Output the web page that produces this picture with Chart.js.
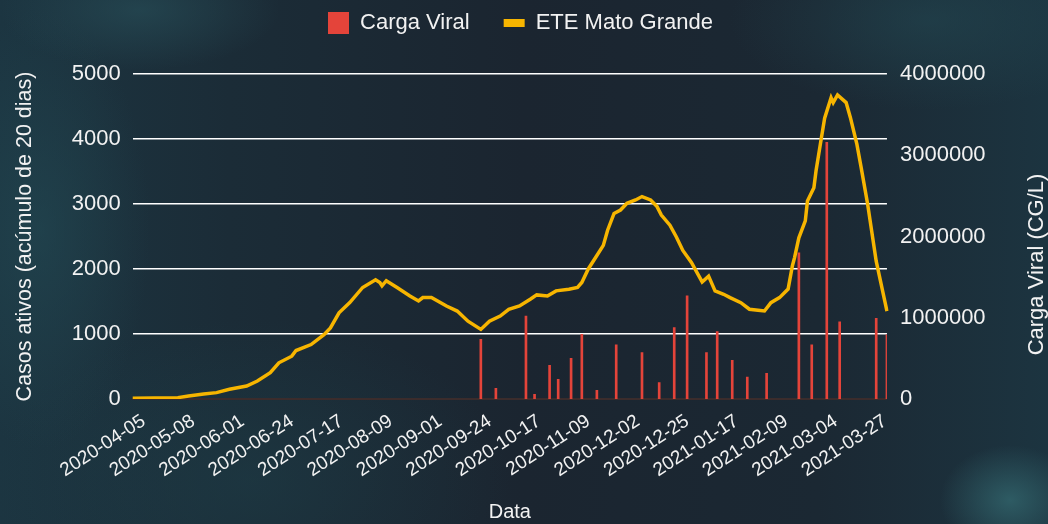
<!DOCTYPE html>
<html>
<head>
<meta charset="utf-8">
<script src="https://cdn.jsdelivr.net/npm/chart.js@4"></script>
<style>
  html, body { margin: 0; padding: 0; }
  body {
    width: 1048px; height: 524px; overflow: hidden;
    background:
      radial-gradient(ellipse 70px 55px at 1010px 500px, rgba(52,105,112,0.75), rgba(52,105,112,0) 100%),
      radial-gradient(ellipse 140px 60px at 140px 10px, rgba(40,80,90,0.6), rgba(40,80,90,0) 100%),
      radial-gradient(ellipse 110px 220px at 40px 230px, rgba(35,75,85,0.55), rgba(35,75,85,0) 100%),
      radial-gradient(ellipse 200px 90px at 930px 20px, rgba(35,72,82,0.55), rgba(35,72,82,0) 100%),
      radial-gradient(ellipse 260px 160px at 250px 480px, rgba(30,65,75,0.45), rgba(30,65,75,0) 100%),
      linear-gradient(90deg, #1c3541 0%, #1b2c37 22%, #1b2530 50%, #1b2833 78%, #1c3440 100%);
  }
  #wrap { position: absolute; left: 0; top: 0; width: 1048px; height: 524px; }
</style>
</head>
<body>
<div id="wrap"><canvas id="chart" width="1048" height="524"></canvas></div>
<script>
// labelled dates on the x axis, one every 23 categories
const tickDates = ['2020-04-05', '2020-05-08', '2020-06-01', '2020-06-24', '2020-07-17', '2020-08-09',
  '2020-09-01', '2020-09-24', '2020-10-17', '2020-11-09', '2020-12-02', '2020-12-25',
  '2021-01-17', '2021-02-09', '2021-03-04', '2021-03-27'];
const tickStep = 23;
const nPoints = 352;

// ETE Mato Grande - casos ativos (position in series, value)
const casosIdx = [0, 10, 21, 26, 33, 39, 45, 53, 58, 64, 68, 74, 76, 83, 89, 92, 96, 101, 107, 113,
  115, 116, 118, 123, 129, 133, 135, 139, 146, 151, 156, 162, 166, 171, 175, 180, 185, 188, 193, 197,
  203, 207, 209, 212, 216, 219, 221, 224, 227, 230, 234, 237, 241, 244, 246, 250, 253, 256, 260, 263,
  265, 268, 271, 275, 278, 283, 287, 291, 294, 297, 301, 305, 307, 308, 310, 313, 314, 317, 318, 320,
  322, 325, 326, 328, 332, 334, 337, 339, 342, 346, 351];
const casosVals = [10, 15, 20, 46, 75, 97, 148, 199, 276, 403, 556, 658, 745, 837, 990, 1093, 1326, 1482, 1715, 1834,
  1790, 1741, 1819, 1715, 1585, 1508, 1560, 1560, 1430, 1352, 1197, 1070, 1197, 1275, 1378, 1430, 1534, 1601, 1585, 1663,
  1689, 1715, 1793, 2000, 2207, 2363, 2596, 2855, 2907, 3010, 3062, 3114, 3062, 2959, 2829, 2674, 2492, 2285, 2100, 1920,
  1800, 1890, 1662, 1610, 1559, 1482, 1380, 1364, 1354, 1482, 1559, 1690, 2050, 2175, 2480, 2740, 3045, 3250, 3510, 3920,
  4320, 4635, 4560, 4677, 4560, 4328, 3920, 3560, 3000, 2120, 1350];

// Carga Viral samples (CG/L)
const cargaIdx = [162, 169, 183, 187, 194, 198, 204, 209, 216, 225, 237, 245, 252, 258, 267, 272, 279,
  286, 295, 310, 316, 323, 329, 346, 351];
const cargaVals = [735000, 132000, 1020000, 58000, 415000, 242000, 500000, 796000, 107000, 665000, 570000,
  200000, 877000, 1270000, 570000, 828000, 476000, 270000, 316000, 1800000, 665000, 3160000, 948000,
  993000, 788000];

const labels = [];
for (let i = 0; i < nPoints; i++) labels.push(i % tickStep === 0 && i / tickStep < tickDates.length ? tickDates[i / tickStep] : '');

const casos = new Array(nPoints).fill(null);
casosIdx.forEach((k, j) => { casos[k] = casosVals[j]; });
const carga = new Array(nPoints).fill(null);
cargaIdx.forEach((k, j) => { carga[k] = cargaVals[j]; });

const white = '#f2f2f2';
const fontFamily = '"Liberation Sans", Arial, sans-serif';
const rightTitle = 'Carga Viral (CG/L)';

// push the plot down below the legend
const legendMargin = {
  id: 'legendMargin',
  beforeInit(chart) {
    const fit = chart.legend.fit;
    chart.legend.fit = function () {
      fit.bind(chart.legend)();
      this.height += 30;
    };
  }
};

// right axis title reads bottom-to-top, like the left one
const rightTitleText = {
  id: 'rightTitleText',
  afterDraw(chart) {
    const ctx = chart.ctx;
    const a = chart.chartArea;
    ctx.save();
    ctx.translate(1037, (a.top + a.bottom) / 2 + 28);
    ctx.rotate(-Math.PI / 2);
    ctx.fillStyle = white;
    ctx.font = '22px ' + fontFamily;
    ctx.textAlign = 'center';
    ctx.textBaseline = 'middle';
    ctx.fillText(rightTitle, 0, 0);
    ctx.restore();
  }
};

const config = {
  type: 'bar',
  data: {
    labels: labels,
    datasets: [
      {
        type: 'bar',
        label: 'Carga Viral',
        data: carga,
        backgroundColor: '#e4443a',
        barThickness: 2,
        yAxisID: 'y1',
        order: 2
      },
      {
        type: 'line',
        label: 'ETE Mato Grande',
        data: casos,
        borderColor: '#f7b500',
        backgroundColor: '#f7b500',
        borderWidth: 3.5,
        pointRadius: 0,
        spanGaps: true,
        tension: 0,
        yAxisID: 'y',
        order: 1
      }
    ]
  },
  options: {
    responsive: false,
    animation: false,
    layout: { padding: { left: 8, right: 15, top: -22, bottom: 0 } },
    plugins: {
      legend: {
        labels: {
          color: white,
          font: { size: 22, family: fontFamily },
          usePointStyle: true,
          pointStyleWidth: 21,
          boxHeight: 22,
          padding: 34,
          sort: (a, b) => a.datasetIndex - b.datasetIndex,
          generateLabels(chart) {
            const items = Chart.defaults.plugins.legend.labels.generateLabels(chart);
            items.forEach(it => {
              if (it.datasetIndex === 0) { it.pointStyle = 'rect'; it.lineWidth = 0; }
              else { it.pointStyle = 'line'; it.lineWidth = 8; }
            });
            return items;
          }
        }
      },
      tooltip: { enabled: false }
    },
    scales: {
      x: {
        offset: false,
        grid: { display: false },
        border: { color: '#3b2c2c', width: 2 },
        ticks: {
          autoSkip: false, minRotation: 33, maxRotation: 33, labelOffset: 11,
          color: white, font: { size: 19, family: fontFamily }
        },
        title: { display: true, text: 'Data', color: white, font: { size: 20, family: fontFamily }, padding: { top: 15, bottom: 0 } }
      },
      y: {
        position: 'left',
        min: 0, max: 5000,
        ticks: { stepSize: 1000, color: white, font: { size: 22, family: fontFamily }, padding: 12, callback: v => String(v) },
        grid: { color: '#ffffff', lineWidth: 1.5, drawTicks: false },
        border: { display: false },
        title: {
          display: true, text: 'Casos ativos (acúmulo de 20 dias)', color: white,
          font: { size: 21.5, family: fontFamily }, padding: { top: 4, bottom: 22 }
        }
      },
      y1: {
        position: 'right',
        min: 0, max: 4000000,
        ticks: { stepSize: 1000000, color: white, font: { size: 22, family: fontFamily }, padding: 13, callback: v => String(v) },
        grid: { display: false, drawTicks: false },
        border: { display: false },
        // space kept for the title, text drawn by rightTitleText
        title: { display: true, text: rightTitle, color: 'rgba(0,0,0,0)', font: { size: 22, family: fontFamily } }
      }
    }
  },
  plugins: [legendMargin, rightTitleText]
};

const chart = new Chart(document.getElementById('chart'), config);
</script>
</body>
</html>
